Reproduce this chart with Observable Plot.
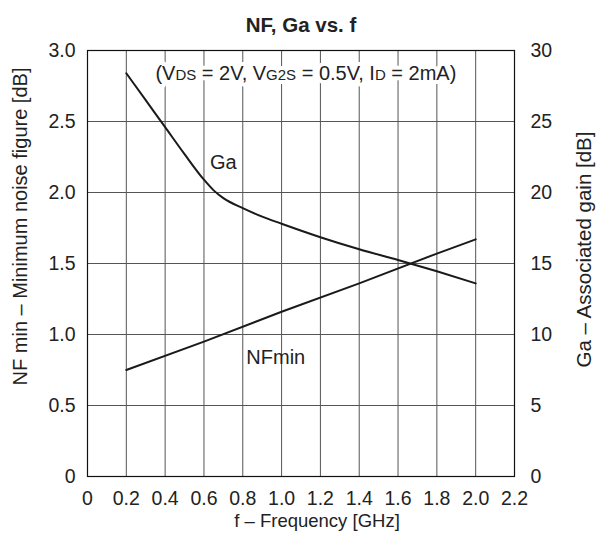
<!DOCTYPE html>
<html><head><meta charset="utf-8">
<script src="https://cdn.jsdelivr.net/npm/d3@7"></script>
<script src="https://cdn.jsdelivr.net/npm/@observablehq/plot@0.6"></script>
<style>
body{margin:0;background:#fff}
svg{font-family:"Liberation Sans",Arial,Helvetica,sans-serif}
</style>
</head><body><div id="chart"></div>
<script>
// Data
const freqNF = [0.2, 0.6, 1.0, 1.4, 1.8, 2.0];
const nfMin  = [0.75, 0.95, 1.16, 1.36, 1.57, 1.67];
const freqGa = [0.2, 0.3, 0.4, 0.5, 0.6, 0.65, 0.7, 0.8, 0.9, 1.0, 1.2, 1.4, 1.6, 1.8, 2.0];
const gaDb   = [28.4, 26.5, 24.6, 22.7, 20.9, 20.15, 19.6, 18.9, 18.3, 17.8, 16.85, 16.0, 15.25, 14.45, 13.6];

const xTicks  = [0, 0.2, 0.4, 0.6, 0.8, 1.0, 1.2, 1.4, 1.6, 1.8, 2.0, 2.2];
const nfTicks = [0, 0.5, 1.0, 1.5, 2.0, 2.5, 3.0];
const gaTicks = [0, 5, 10, 15, 20, 25, 30];

const title = "NF, Ga vs. f";
const xLabel = "f – Frequency [GHz]";
const yLabelLeft = "NF min – Minimum noise figure [dB]";
const yLabelRight = "Ga – Associated gain [dB]";
const condParts = [["(V",false],["DS",true],[" = 2V, V",false],["G2S",true],[" = 0.5V, I",false],["D",true],[" = 2mA)",false]];
const condPos = [{f: 1.125, v: 2.84}];
const curveLabels = [{f: 0.70, v: 2.21, name: "Ga"}, {f: 0.97, v: 0.84, name: "NFmin"}];

const gaScale = 10; // 3.0 on left axis == 30 dB on right axis
const nfData = freqNF.map((f, i) => ({f, v: nfMin[i]}));
const gaData = freqGa.map((f, i) => ({f, v: gaDb[i] / gaScale}));
const fmt1 = d => d === 0 ? "0" : d.toFixed(1);
const condText = condParts.map(p => p[0]).join("");
const FS = 19.5;

const plot = Plot.plot({
  width: 606, height: 541,
  marginTop: 50, marginBottom: 65, marginLeft: 87, marginRight: 92,
  style: {fontSize: FS + "px", color: "#222", background: "#fff"},
  x: {domain: [0, 2.2]},
  y: {domain: [0, 3]},
  marks: [
    Plot.gridX(xTicks, {stroke: "#555", strokeOpacity: 1}),
    Plot.gridY(nfTicks, {stroke: "#555", strokeOpacity: 1}),
    Plot.text(condPos, {x: "f", y: "v", text: () => condText, stroke: "white", fill: "white", strokeWidth: 8, fontSize: 20, className: "cond"}),
    Plot.text(condPos, {x: "f", y: "v", text: () => condText, fill: "#222", fontSize: 20, className: "cond"}),
    Plot.line(gaData, {x: "f", y: "v", stroke: "#1a1a1a", strokeWidth: 2, curve: "monotone-x"}),
    Plot.line(nfData, {x: "f", y: "v", stroke: "#1a1a1a", strokeWidth: 2}),
    Plot.frame({stroke: "#111", strokeWidth: 1.2}),
    Plot.text(curveLabels, {x: "f", y: "v", text: "name", fill: "#222", fontSize: 20}),
    Plot.axisX(xTicks, {tickSize: 0, tickPadding: 15, tickFormat: fmt1, label: null, fontSize: FS}),
    Plot.axisY(nfTicks, {anchor: "left", tickSize: 0, tickPadding: 12, tickFormat: fmt1, label: null, fontSize: FS}),
    Plot.axisY(gaTicks.map(d => d / gaScale), {anchor: "right", tickSize: 0, tickPadding: 16, tickFormat: d => String(Math.round(d * gaScale)), label: null, fontSize: FS}),
    Plot.text([xLabel], {frameAnchor: "bottom", textAnchor: "middle", dx: 16, dy: 50, fontSize: 18.5, fill: "#222"}),
    Plot.text([yLabelLeft], {frameAnchor: "left", textAnchor: "middle", rotate: -90, dx: -67, dy: -37, fontSize: 20, fill: "#222"}),
    Plot.text([yLabelRight], {frameAnchor: "right", textAnchor: "middle", rotate: -90, dx: 70, dy: -14, fontSize: 20.5, fill: "#222"}),
    Plot.text([title], {frameAnchor: "top", textAnchor: "middle", dy: -33, fontSize: 20.5, fontWeight: "bold", fill: "#222"})
  ]
});

// small-caps style subscripts in the conditions annotation
d3.select(plot).selectAll("g.cond text").each(function() {
  const t = d3.select(this);
  t.text(null);
  condParts.forEach(([s, small]) => {
    t.append("tspan").attr("font-size", small ? 15 : 20).text(s);
  });
});
document.getElementById("chart").appendChild(plot);
</script>
</body></html>
